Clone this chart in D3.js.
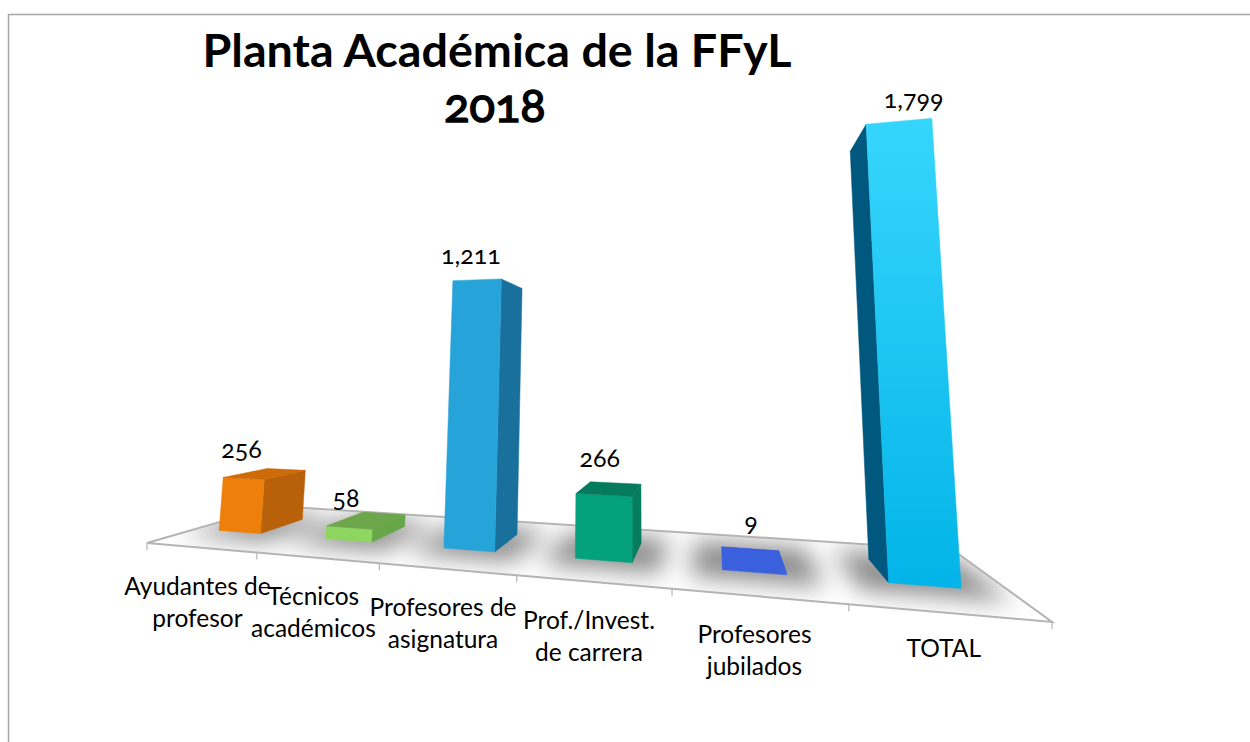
<!DOCTYPE html>
<html><head><meta charset="utf-8">
<script src="https://cdn.jsdelivr.net/npm/d3@7/dist/d3.min.js"></script>
<style>
html,body{margin:0;padding:0;background:#fff;overflow:hidden}
svg{display:block}
text{font-family:Lato,"Open Sans",sans-serif;font-feature-settings:"onum" 1,"lnum" 0;fill:#000}
</style></head><body>
<svg id="c" width="1250" height="742"></svg>
<script>
const categories=[["Ayudantes de","profesor"],["Técnicos","académicos"],["Profesores de","asignatura"],["Prof./Invest.","de carrera"],["Profesores","jubilados"],["TOTAL"]];
const values=[256,58,1211,266,9,1799];
const valueLabels=["256","58","1,211","266","9","1,799"];
const titleLines=["Planta Académica de la FFyL","2018"];
const frontColors=["#ef7f0b","#8ed65f","#26a3d9","#04a27c","#3b60de","#09bdf0"];
const sideColors=["#b8610a","#67a74a","#1a709d","#067c5f","#3b60de","#01587f"];
const topColors=["#cc6b08","#6ea64c","#1c80ab","#067a5c","#3b60de","#35d6fb"];
const labelNudgeX=[-2,-3,-6,-4,-3,15];
const labelNudgeY=[1,7,-3,-3,-4,2];

const svg=d3.select("#c");
const defs=svg.append("defs");
svg.append("path").attr("d","M8.5 742V14.5H1250").attr("fill","none").attr("stroke","#a6a6a6").attr("stroke-width",1.5);

const FL=[147,543],FR=[1052,622],BR=[953,550],BL=[275,506],VP=[625,-4800];
const den=(FR[0]-BR[0])*(BL[1]-BR[1])-(BL[0]-BR[0])*(FR[1]-BR[1]);
const sx=FL[0]-FR[0]+BR[0]-BL[0],sy=FL[1]-FR[1]+BR[1]-BL[1];
const g=(sx*(BL[1]-BR[1])-(BL[0]-BR[0])*sy)/den;
const h=((FR[0]-BR[0])*sy-sx*(FR[1]-BR[1]))/den;
const A=FR[0]-FL[0]+g*FR[0],B=BL[0]-FL[0]+h*BL[0],C=FL[0];
const D=FR[1]-FL[1]+g*FR[1],E=BL[1]-FL[1]+h*BL[1],F=FL[1];
function project(u,d,z){
  const w=g*u+h*d+1+z;
  return [(A*u+B*d+C+z*VP[0])/w,(D*u+E*d+F+z*VP[1])/w];
}
const xBand=d3.scaleBand().domain(d3.range(values.length)).range([-0.013,1.006]).paddingInner(0.6).paddingOuter(0.3);
const zScale=d3.scaleLinear().domain([0,1799]).range([0,0.0765]);
const depth0=0.33,depth1=0.7;
const poly=pts=>"M"+pts.map(p=>p.map(v=>v.toFixed(2)).join(",")).join("L")+"Z";
const area=pts=>d3.polygonArea(pts);

const floorPts=[FL,FR,BR,BL];
defs.append("clipPath").attr("id","floorClip").append("path").attr("d",poly(floorPts));
const blur=defs.append("filter").attr("id","blur").attr("x","-50%").attr("y","-80%").attr("width","200%").attr("height","260%");
blur.append("feGaussianBlur").attr("stdDeviation",12);
svg.append("path").attr("d",poly(floorPts)).attr("fill","#fff");
const shadow=svg.append("g").attr("clip-path","url(#floorClip)").append("g").attr("filter","url(#blur)");
values.forEach((v,i)=>{
  const u0=xBand(i),u1=u0+xBand.bandwidth(),eu=0.034,dd=0.13;
  shadow.append("path").attr("d",poly([project(u0-eu,depth0-dd,0),project(u1+eu,depth0-dd,0),project(u1+eu,depth1+dd,0),project(u0-eu,depth1+dd,0)])).attr("fill","#8a8a8a");
});
svg.append("path").attr("d",poly(floorPts)).attr("fill","none").attr("stroke","#b4b4b4").attr("stroke-width",2);
const cell=1/values.length;
d3.range(values.length+1).forEach(i=>{
  const p=project(i*cell,0,0);
  svg.append("line").attr("x1",p[0]).attr("x2",p[0]).attr("y1",p[1]).attr("y2",p[1]+7).attr("stroke","#b4b4b4").attr("stroke-width",1.2);
});

function grad(id,c1,c2){
  const l=defs.append("linearGradient").attr("id",id).attr("x1",0).attr("y1",0).attr("x2",0).attr("y2",1);
  l.append("stop").attr("offset",0).attr("stop-color",c1);
  l.append("stop").attr("offset",1).attr("stop-color",c2);
}
grad("gTotal","#36d6fc","#03b4e8");

values.forEach((v,i)=>{
  const u0=xBand(i),u1=u0+xBand.bandwidth(),z=zScale(v);
  const P=project;
  const topPts=[P(u0,depth0,z),P(u1,depth0,z),P(u1,depth1,z),P(u0,depth1,z)];
  const faces=[
    {pts:[P(u0,depth1,0),P(u0,depth0,0),P(u0,depth0,z),P(u0,depth1,z)],fill:sideColors[i]},
    {pts:[P(u1,depth0,0),P(u1,depth1,0),P(u1,depth1,z),P(u1,depth0,z)],fill:sideColors[i]},
    {pts:[P(u0,depth0,0),P(u1,depth0,0),P(u1,depth0,z),P(u0,depth0,z)],fill:i===5?"url(#gTotal)":frontColors[i]},
    {pts:topPts,fill:topColors[i]}
  ];
  const ref=area(faces[2].pts);
  faces.forEach(f=>{
    if(area(f.pts)*ref>0) svg.append("path").attr("d",poly(f.pts)).attr("fill",f.fill).attr("stroke",f.fill).attr("stroke-width",0.5);
  });
  if(v<20) svg.append("path").attr("d",poly(topPts)).attr("fill",topColors[i]);
  const t=P((u0+u1)/2,depth0,z);
  const minY=d3.min(topPts,p=>p[1]);
  svg.append("text").attr("x",t[0]+labelNudgeX[i]).attr("y",minY-12+labelNudgeY[i]).attr("text-anchor","middle").attr("font-size",25).text(valueLabels[i]);
});

categories.forEach((lines,i)=>{
  const p=project((i+0.5)*cell,0,0);
  lines.forEach((s,j)=>{
    svg.append("text").attr("x",p[0]-3).attr("y",p[1]+47+j*32-(lines.length===1?3:0)).attr("text-anchor","middle").attr("font-size",24.5).text(s);
  });
});

svg.append("text").attr("x",497).attr("y",67).attr("text-anchor","middle").attr("font-size",46.7).attr("font-weight",700).text(titleLines[0]);
svg.append("text").attr("x",495).attr("y",122).attr("text-anchor","middle").attr("font-size",47).attr("font-weight",400).attr("stroke","#000").attr("stroke-width",1.5).text(titleLines[1]);
</script>
</body></html>
